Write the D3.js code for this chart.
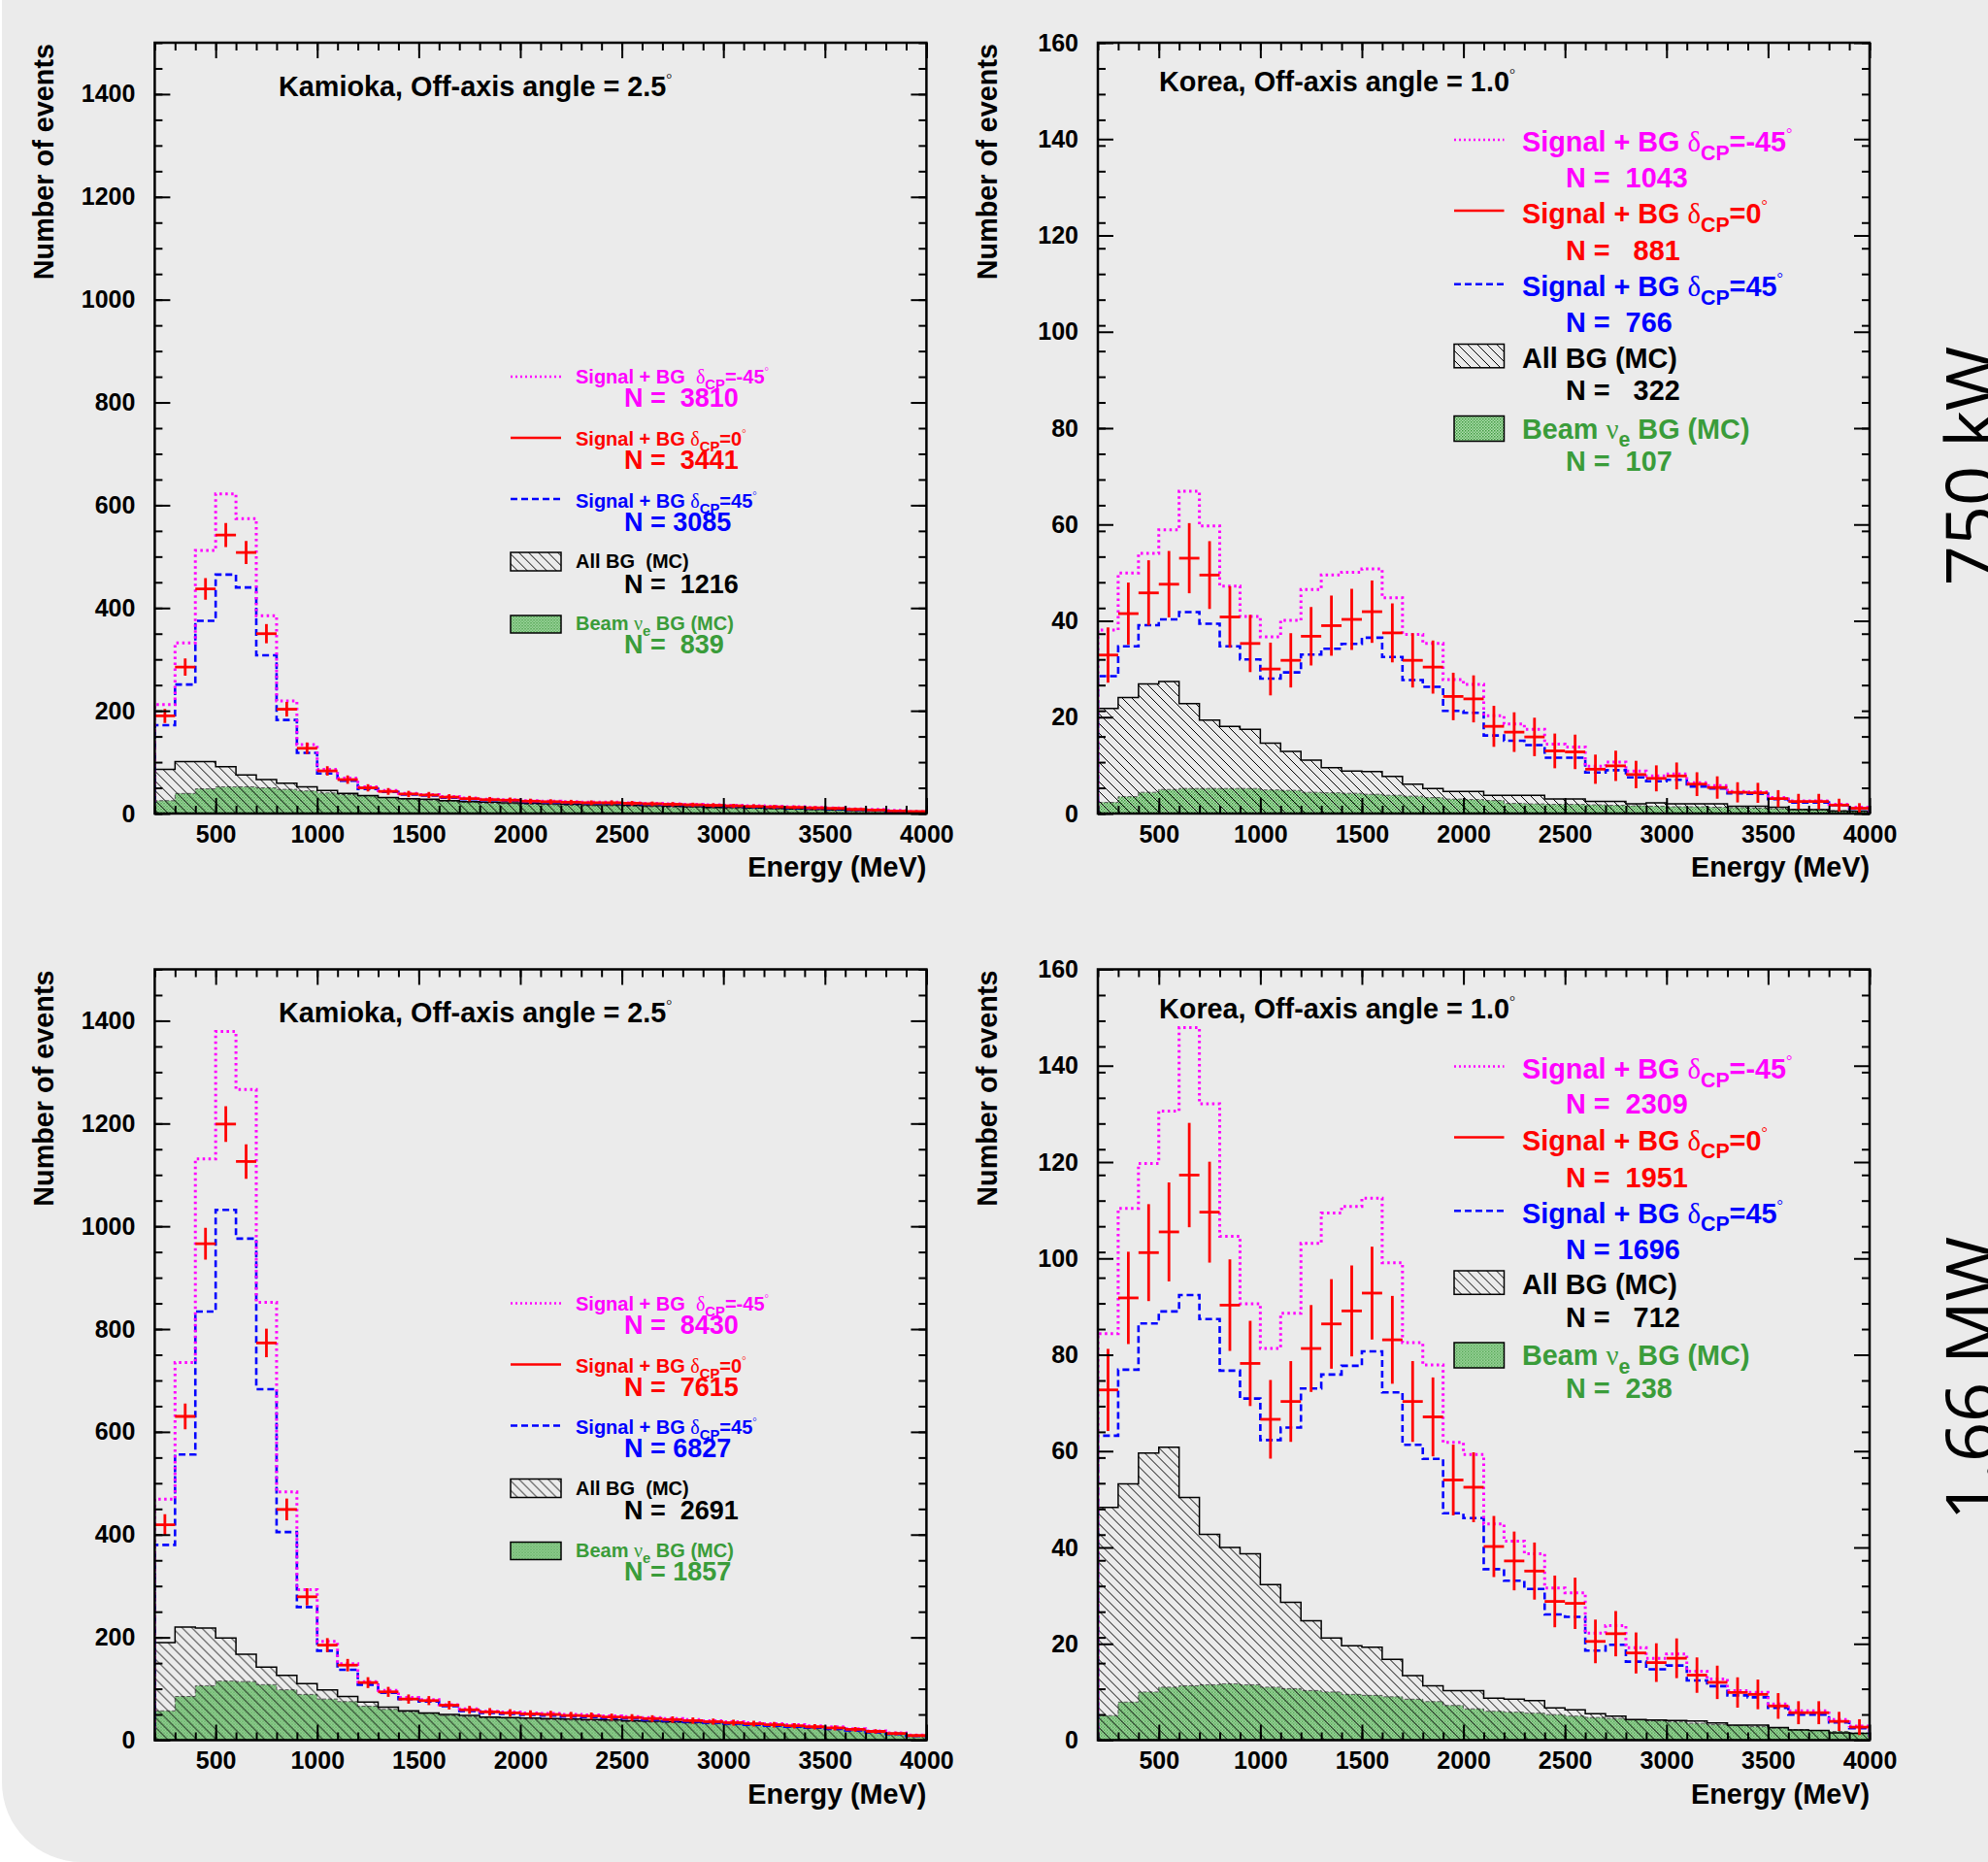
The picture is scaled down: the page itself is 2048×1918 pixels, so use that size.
<!DOCTYPE html>
<html>
<head>
<meta charset="utf-8">
<script src="https://cdn.jsdelivr.net/npm/d3@7"></script>
<style>
  body { margin: 0; background: #fff; }
  svg text { white-space: pre; }
</style>
</head>
<body>
<div id="chart"></div>
<script>
// energy bins, 100 MeV wide
const binEdges = d3.range(200, 4001, 100);

// Kamioka, 750 kW
const kam750Minus45 = [212, 332, 512, 622, 574, 385, 219, 134, 86, 69, 52, 45, 39, 37, 33, 30,
    28, 27, 25, 24, 23, 22, 22, 21, 20, 19, 18, 17, 16, 15, 14, 13, 12, 11, 9, 8, 6, 4];
const kam750Zero = [190, 285, 437, 542, 508, 350, 203, 127, 83, 66, 50, 43, 38, 36, 32, 29,
    27, 26, 24, 23, 22, 21, 21, 20, 19, 18, 17, 16, 15, 14, 13, 12, 11, 10, 8, 7, 5, 4];
const kam750Plus45 = [172, 251, 375, 465, 440, 308, 182, 118, 78, 64, 48, 42, 37, 35, 31, 28,
    26, 25, 23, 22, 21, 20, 20, 19, 18, 17, 16, 15, 14, 13, 12, 11, 10, 9, 7, 6, 4, 3];
const kam750AllBG = [86, 101, 101, 91, 75, 66, 59, 52, 45, 39, 35, 31, 29, 28, 25, 23,
    22, 21, 20, 19, 18, 17, 17, 16, 15, 14, 13, 12, 12, 11, 10, 9, 8, 7, 6, 5, 4, 3];
const kam750Beam = [25, 39, 48, 52, 52, 50, 47, 44, 40, 37, 34, 31, 28, 26, 24, 22,
    20, 19, 18, 17, 16, 15, 15, 14, 13, 12, 12, 11, 10, 10, 9, 8, 7, 6, 5, 4, 3, 2];
const kam750N = ['N =  3810', 'N =  3441', 'N = 3085', 'N =  1216', 'N =  839'];

// Korea, 750 kW
const kor750Minus45 = [38.1, 49.9, 54.0, 58.9, 66.9, 59.7, 47.2, 40.9, 36.7, 40.1, 46.5, 49.5, 50.1, 50.8,
    44.8, 37.2, 35.3, 27.8, 26.8, 20.3, 18.6, 17.5, 14.4, 13.8, 9.8, 10.7, 8.8, 7.8, 8.2, 6.4, 5.8, 4.6,
    4.5, 3.3, 2.6, 2.6, 1.9, 1.3];
const kor750Zero = [32.9, 41.5, 45.8, 47.6, 53.0, 49.5, 40.8, 35.3, 30.0, 31.8, 36.8, 39.0, 40.3, 41.9,
    37.5, 31.8, 30.4, 24.3, 23.8, 18.1, 16.9, 15.9, 13.0, 12.8, 9.2, 9.9, 8.1, 7.3, 7.8, 6.1, 5.4, 4.4,
    4.3, 3.1, 2.5, 2.5, 1.75, 1.1];
const kor750Plus45 = [28.5, 34.7, 39.1, 40.3, 41.8, 39.4, 34.7, 32.0, 28.0, 29.3, 33.0, 34.2, 35.2, 36.5,
    32.5, 27.7, 26.3, 21.3, 20.9, 16.2, 15.1, 14.2, 11.6, 11.6, 8.5, 9.0, 7.5, 6.7, 7.0, 5.6, 5.2, 4.2,
    4.1, 3.0, 2.3, 2.3, 1.7, 1.0];
const kor750AllBG = [21.8, 24.1, 26.9, 27.4, 22.8, 19.4, 18.1, 17.5, 14.6, 12.9, 11.1, 9.5, 8.8, 8.7,
    7.7, 6.1, 5.2, 4.6, 4.6, 3.8, 3.8, 3.8, 3.0, 3.0, 2.5, 2.5, 2.0, 2.2, 2.0, 2.0, 2.0, 1.5,
    1.5, 1.3, 0.8, 0.8, 0.5, 0.5];
const kor750Beam = [2.3, 3.5, 4.4, 5.0, 5.2, 5.2, 5.2, 5.2, 4.9, 4.8, 4.4, 4.3, 4.2, 4.0,
    3.8, 3.6, 3.3, 3.0, 2.9, 2.7, 2.1, 2.0, 1.9, 1.9, 1.8, 1.7, 1.6, 1.5, 1.4, 1.4, 1.3, 1.2,
    1.1, 1.0, 0.9, 0.8, 0.6, 0.5];
const kor750N = ['N =  1043', 'N =   881', 'N =  766', 'N =   322', 'N =  107'];

// Kamioka, 1.66 MW
const kam166Minus45 = [469, 735, 1131, 1379, 1266, 852, 483, 293, 192, 149, 114, 97, 83, 79, 69, 61, 56,
    55, 53, 52, 50, 49, 47, 46, 44, 42, 40, 38, 36, 34, 32, 30, 28, 26, 22, 18, 14, 10];
const kam166Zero = [419, 630, 966, 1199, 1126, 773, 449, 279, 185, 146, 112, 94, 80, 77, 68, 59, 55,
    53, 51, 50, 48, 47, 45, 44, 42, 40, 38, 36, 34, 32, 30, 28, 26, 24, 21, 17, 13, 9];
const kam166Plus45 = [380, 556, 834, 1032, 976, 683, 405, 259, 174, 137, 108, 92, 80, 75, 66, 57, 53,
    51, 49, 48, 46, 45, 43, 42, 40, 38, 36, 34, 32, 30, 28, 26, 24, 22, 19, 15, 12, 8];
const kam166AllBG = [190, 220, 218, 199, 167, 142, 126, 110, 98, 85, 74, 64, 57, 53, 50, 48, 45,
    44, 43, 42, 41, 40, 39, 38, 37, 36, 35, 34, 33, 32, 30, 28, 26, 24, 21, 17, 13, 9];
const kam166Beam = [57, 85, 106, 115, 114, 108, 98, 89, 80, 75, 66, 60, 55, 52, 48, 46, 44,
    43, 41, 40, 39, 38, 37, 36, 35, 34, 33, 32, 30, 29, 27, 25, 23, 21, 18, 15, 11, 8];
const kam166N = ['N =  8430', 'N =  7615', 'N = 6827', 'N =  2691', 'N = 1857'];

// Korea, 1.66 MW
const kor166Minus45 = [84.4, 110.4, 119.7, 130.6, 147.9, 132.1, 104.6, 90.6, 81.3, 88.6, 103.1, 109.4, 110.8,
    112.5, 99.1, 82.5, 77.9, 61.8, 59.3, 44.9, 41.3, 38.7, 31.6, 30.6, 22.2, 23.8, 19.2, 17.0, 17.9, 14.3,
    12.7, 10.3, 9.9, 7.5, 6.1, 6.1, 4.3, 2.9];
const kor166Zero = [72.7, 91.8, 101.2, 105.5, 117.3, 109.6, 90.3, 78.2, 66.6, 70.3, 81.3, 86.4, 89.1,
    92.8, 83.1, 70.3, 67.1, 54.0, 52.5, 40.2, 37.2, 35.1, 28.8, 28.4, 20.5, 22.1, 18.1, 16.1, 17.0, 13.5,
    12.0, 9.9, 9.5, 7.1, 5.7, 5.7, 3.9, 2.7];
const kor166Plus45 = [63.2, 76.9, 86.5, 89.0, 92.4, 87.4, 76.7, 70.9, 62.3, 64.9, 73.0, 75.9, 77.7,
    80.7, 72.2, 61.3, 58.4, 47.1, 46.1, 35.5, 33.1, 31.4, 26.1, 25.6, 18.6, 19.8, 16.3, 14.7, 15.5, 12.4,
    11.2, 9.3, 8.9, 6.7, 5.3, 5.3, 3.7, 2.5];
const kor166AllBG = [48.3, 53.2, 59.6, 60.8, 50.4, 42.7, 40.0, 38.7, 32.3, 28.6, 24.8, 21.2, 19.6,
    19.3, 16.8, 13.4, 11.3, 10.3, 10.3, 8.7, 8.5, 8.2, 6.7, 6.3, 5.5, 5.0, 4.3, 4.2, 4.1, 4.0,
    3.6, 3.1, 3.1, 2.6, 2.1, 2.0, 1.5, 1.4];
const kor166Beam = [5.1, 7.9, 10.0, 11.0, 11.3, 11.5, 11.7, 11.5, 11.0, 10.7, 10.3, 10.0, 9.5,
    9.3, 9.0, 8.5, 8.0, 7.2, 6.5, 6.0, 5.8, 5.6, 5.3, 5.0, 4.7, 4.5, 4.2, 4.0, 3.8, 3.5,
    3.2, 3.0, 2.8, 2.5, 2.2, 2.0, 1.8, 1.5];
const kor166N = ['N =  2309', 'N =  1951', 'N = 1696', 'N =   712', 'N =  238'];

const kamTicks = [0, 200, 400, 600, 800, 1000, 1200, 1400];
const korTicks = [0, 20, 40, 60, 80, 100, 120, 140, 160];
const energyTicks = [500, 1000, 1500, 2000, 2500, 3000, 3500, 4000];

const SANS = "'Liberation Sans', Arial, Helvetica, sans-serif";
const SERIF = "'Liberation Serif', 'DejaVu Serif', serif";
const MAGENTA = '#ff00ff', RED = '#ff0000', BLUE = '#0000ff', GREEN = '#3a9c3a';

const width = 2048, height = 1918;
const svg = d3.select('#chart').append('svg')
    .attr('width', width)
    .attr('height', height);

// page background with the rounded corner
svg.append('rect').attr('width', width).attr('height', height).attr('fill', '#fff');
svg.append('rect')
    .attr('x', 2).attr('y', -200)
    .attr('width', width + 200).attr('height', height + 200)
    .attr('rx', 82)
    .attr('fill', '#ebebeb');

// fill patterns
const defs = svg.append('defs');
const hatch = defs.append('pattern')
    .attr('id', 'hatch')
    .attr('patternUnits', 'userSpaceOnUse')
    .attr('width', 10).attr('height', 10);
hatch.append('path')
    .attr('d', 'M0,0 L10,10 M-1,9 L1,11 M9,-1 L11,1')
    .attr('stroke', '#000').attr('stroke-width', 1);

const greenPat = defs.append('pattern')
    .attr('id', 'greenFill')
    .attr('patternUnits', 'userSpaceOnUse')
    .attr('width', 3).attr('height', 3);
greenPat.append('rect').attr('width', 3).attr('height', 3).attr('fill', '#b4e0b4');
greenPat.append('rect').attr('width', 1.5).attr('height', 1.5).attr('fill', '#3c9a3c');
greenPat.append('rect').attr('x', 1.5).attr('y', 1.5).attr('width', 1.5).attr('height', 1.5).attr('fill', '#5aae5a');

// text with sub/superscripts
function richText(g, x, y, parts, color) {
    const t = g.append('text').attr('x', x).attr('y', y).attr('fill', color);
    let cur = 0;
    parts.forEach(p => {
        const shift = p.shift || 0;
        t.append('tspan')
            .attr('dy', shift - cur)
            .attr('font-family', p.serif ? SERIF : SANS)
            .attr('font-weight', p.serif ? 'normal' : 'bold')
            .attr('font-size', p.size)
            .text(p.text);
        cur = shift;
    });
    return t;
}

function signalParts(prefix, delta, s) {
    return [
        { text: prefix, size: s },
        { text: 'δ', size: s, serif: true },
        { text: 'CP', size: s * 0.74, shift: s * 0.3 },
        { text: '=' + delta, size: s },
        { text: '°', size: s * 0.55, serif: true, shift: -s * 0.45 }
    ];
}

function beamParts(s) {
    return [
        { text: 'Beam ', size: s },
        { text: 'ν', size: s, serif: true },
        { text: 'e', size: s * 0.74, shift: s * 0.3 },
        { text: ' BG (MC)', size: s }
    ];
}

const smallLegend = {
    x0: 366.6, x1: 418.6, textX: 433.6, nX: 483.6, size: 20, nSize: 27,
    lineY: [344, 407, 470], textY: [351, 415, 478.7], nY: [375, 439, 502.7],
    box: [[525, 544], [590, 608]], boxTextY: [541, 605], boxNY: [566.7, 629],
    gaps: ['Signal + BG  ', 'Signal + BG ', 'Signal + BG '], allbg: 'All BG  (MC)'
};
const bigLegend = {
    x0: 367, x1: 418.5, textX: 437, nX: 482, size: 28.8, nSize: 28.8,
    lineY: [100, 173, 248.7], textY: [112.4, 186, 261], nY: [148.7, 224, 298.4],
    box: [[310.5, 334.8], [384.5, 410.5]], boxTextY: [334.8, 407.5], boxNY: [368, 441],
    gaps: ['Signal + BG ', 'Signal + BG ', 'Signal + BG '], allbg: 'All BG (MC)'
};

const PW = 795, PH = 794;

function drawPanel(cfg) {
    const g = svg.append('g').attr('transform', `translate(${cfg.left},${cfg.top})`);
    const x = d3.scaleLinear().domain([200, 4000]).range([0, PW]);
    const y = d3.scaleLinear().domain([0, cfg.ymax]).range([PH, 0]);

    const clipId = 'clip' + cfg.id;
    g.append('clipPath').attr('id', clipId)
        .append('rect').attr('width', PW).attr('height', PH);
    const plot = g.append('g').attr('clip-path', `url(#${clipId})`);

    const line = d3.line().x(d => x(d[0])).y(d => y(d[1])).curve(d3.curveStepAfter);
    const histPts = vals => {
        const pts = [[200, 0]].concat(vals.map((v, i) => [binEdges[i], v]));
        pts.push([4000, vals[vals.length - 1]], [4000, 0]);
        return pts;
    };

    // beam nu_e background
    plot.append('path')
        .attr('d', line(histPts(cfg.beam)) + 'Z')
        .attr('fill', 'url(#greenFill)');
    plot.append('path')
        .attr('d', line(histPts(cfg.beam)))
        .attr('fill', 'none')
        .attr('stroke', '#555').attr('stroke-width', 1).attr('stroke-dasharray', '4,2');

    // all background, hatched
    plot.append('path')
        .attr('d', line(histPts(cfg.allbg)) + 'Z')
        .attr('fill', 'url(#hatch)')
        .attr('stroke', '#000').attr('stroke-width', 1.5);

    // delta_CP = +45 and -45 histograms
    plot.append('path')
        .attr('d', line(histPts(cfg.plus45)))
        .attr('fill', 'none')
        .attr('stroke', BLUE).attr('stroke-width', 2.6).attr('stroke-dasharray', '7,4');
    plot.append('path')
        .attr('d', line(histPts(cfg.minus45)))
        .attr('fill', 'none')
        .attr('stroke', MAGENTA).attr('stroke-width', 3).attr('stroke-dasharray', '2.5,3.5');

    // delta_CP = 0 with statistical error bars
    const pts = plot.append('g').attr('stroke', RED).attr('stroke-width', 2.8);
    cfg.zero.forEach((v, i) => {
        const err = Math.sqrt(v);
        pts.append('line')
            .attr('x1', x(binEdges[i])).attr('x2', x(binEdges[i + 1]))
            .attr('y1', y(v)).attr('y2', y(v));
        pts.append('line')
            .attr('x1', x(binEdges[i] + 50)).attr('x2', x(binEdges[i] + 50))
            .attr('y1', y(v - err)).attr('y2', y(v + err));
    });

    // axes, ticks pointing inwards on all four sides
    const styleAxis = sel => {
        sel.select('.domain').remove();
        sel.selectAll('.tick line').attr('stroke', '#000').attr('stroke-width', 2);
        sel.selectAll('text')
            .attr('font-family', SANS).attr('font-weight', 'bold')
            .attr('font-size', 25).attr('fill', '#000');
    };
    const xMinor = d3.range(200, 4001, 100);
    const yMinor = d3.range(0, cfg.ymax + 0.1, cfg.ymax / 30);

    g.append('g').attr('transform', `translate(0,${PH})`)
        .call(d3.axisBottom(x).tickValues(energyTicks).tickSize(-16).tickPadding(12).tickFormat(d3.format('d')))
        .call(styleAxis);
    g.append('g').attr('transform', `translate(0,${PH})`)
        .call(d3.axisBottom(x).tickValues(xMinor).tickSize(-8).tickFormat(''))
        .call(styleAxis);
    g.append('g')
        .call(d3.axisTop(x).tickValues(energyTicks).tickSize(-16).tickFormat(''))
        .call(styleAxis);
    g.append('g')
        .call(d3.axisTop(x).tickValues(xMinor).tickSize(-8).tickFormat(''))
        .call(styleAxis);
    g.append('g')
        .call(d3.axisLeft(y).tickValues(cfg.yTicks).tickSize(-16).tickPadding(20).tickFormat(d3.format('d')))
        .call(styleAxis);
    g.append('g')
        .call(d3.axisLeft(y).tickValues(yMinor).tickSize(-8).tickFormat(''))
        .call(styleAxis);
    g.append('g').attr('transform', `translate(${PW},0)`)
        .call(d3.axisRight(y).tickValues(cfg.yTicks).tickSize(-16).tickFormat(''))
        .call(styleAxis);
    g.append('g').attr('transform', `translate(${PW},0)`)
        .call(d3.axisRight(y).tickValues(yMinor).tickSize(-8).tickFormat(''))
        .call(styleAxis);

    // frame
    g.append('rect')
        .attr('width', PW).attr('height', PH)
        .attr('fill', 'none').attr('stroke', '#000').attr('stroke-width', 2.5);

    // axis titles
    g.append('text')
        .attr('transform', `translate(-104,1) rotate(-90)`)
        .attr('text-anchor', 'end')
        .attr('font-family', SANS).attr('font-weight', 'bold').attr('font-size', 28.8)
        .text('Number of events');
    g.append('text')
        .attr('x', PW).attr('y', PH + 65)
        .attr('text-anchor', 'end')
        .attr('font-family', SANS).attr('font-weight', 'bold').attr('font-size', 28.8)
        .text('Energy (MeV)');

    // panel title
    richText(g, cfg.titleX, cfg.titleY, [
        { text: cfg.title, size: 28.8 },
        { text: '°', size: 15, serif: true, shift: -13 }
    ], '#000');

    // legend
    const L = cfg.legend;
    const colors = [MAGENTA, RED, BLUE];
    const deltas = ['-45', '0', '45'];
    const dashes = ['2,3', null, '7,4'];
    for (let k = 0; k < 3; k++) {
        g.append('line')
            .attr('x1', L.x0).attr('x2', L.x1)
            .attr('y1', L.lineY[k]).attr('y2', L.lineY[k])
            .attr('stroke', colors[k]).attr('stroke-width', 2.5)
            .attr('stroke-dasharray', dashes[k]);
        richText(g, L.textX, L.textY[k], signalParts(L.gaps[k], deltas[k], L.size), colors[k]);
        richText(g, L.nX, L.nY[k], [{ text: cfg.nLabels[k], size: L.nSize }], colors[k]);
    }
    const boxFills = ['url(#hatch)', 'url(#greenFill)'];
    for (let k = 0; k < 2; k++) {
        g.append('rect')
            .attr('x', L.x0).attr('y', L.box[k][0])
            .attr('width', L.x1 - L.x0).attr('height', L.box[k][1] - L.box[k][0])
            .attr('fill', boxFills[k])
            .attr('stroke', '#000').attr('stroke-width', 1.5);
    }
    richText(g, L.textX, L.boxTextY[0], [{ text: L.allbg, size: L.size }], '#000');
    richText(g, L.nX, L.boxNY[0], [{ text: cfg.nLabels[3], size: L.nSize }], '#000');
    richText(g, L.textX, L.boxTextY[1], beamParts(L.size), GREEN);
    richText(g, L.nX, L.boxNY[1], [{ text: cfg.nLabels[4], size: L.nSize }], GREEN);
}

drawPanel({
    id: 1, left: 159.4, top: 44, ymax: 1500, yTicks: kamTicks,
    minus45: kam750Minus45, zero: kam750Zero, plus45: kam750Plus45, allbg: kam750AllBG, beam: kam750Beam,
    nLabels: kam750N, legend: smallLegend,
    title: 'Kamioka, Off-axis angle = 2.5', titleX: 127.6, titleY: 55
});
drawPanel({
    id: 2, left: 1131, top: 44, ymax: 160, yTicks: korTicks,
    minus45: kor750Minus45, zero: kor750Zero, plus45: kor750Plus45, allbg: kor750AllBG, beam: kor750Beam,
    nLabels: kor750N, legend: bigLegend,
    title: 'Korea, Off-axis angle = 1.0', titleX: 63, titleY: 50
});
drawPanel({
    id: 3, left: 159.4, top: 998.5, ymax: 1500, yTicks: kamTicks,
    minus45: kam166Minus45, zero: kam166Zero, plus45: kam166Plus45, allbg: kam166AllBG, beam: kam166Beam,
    nLabels: kam166N, legend: smallLegend,
    title: 'Kamioka, Off-axis angle = 2.5', titleX: 127.6, titleY: 54
});
drawPanel({
    id: 4, left: 1131, top: 998.5, ymax: 160, yTicks: korTicks,
    minus45: kor166Minus45, zero: kor166Zero, plus45: kor166Plus45, allbg: kor166AllBG, beam: kor166Beam,
    nLabels: kor166N, legend: bigLegend,
    title: 'Korea, Off-axis angle = 1.0', titleX: 63, titleY: 50
});

// beam power labels at the right edge
[['750 kW', 480], ['1.66 MW', 1420]].forEach(([label, cy]) => {
    svg.append('text')
        .attr('transform', `translate(2056,${cy}) rotate(-90)`)
        .attr('text-anchor', 'middle')
        .attr('font-family', "'Open Sans', 'Noto Sans', sans-serif")
        .attr('font-size', 72)
        .attr('fill', '#000')
        .text(label);
});
</script>
</body>
</html>
